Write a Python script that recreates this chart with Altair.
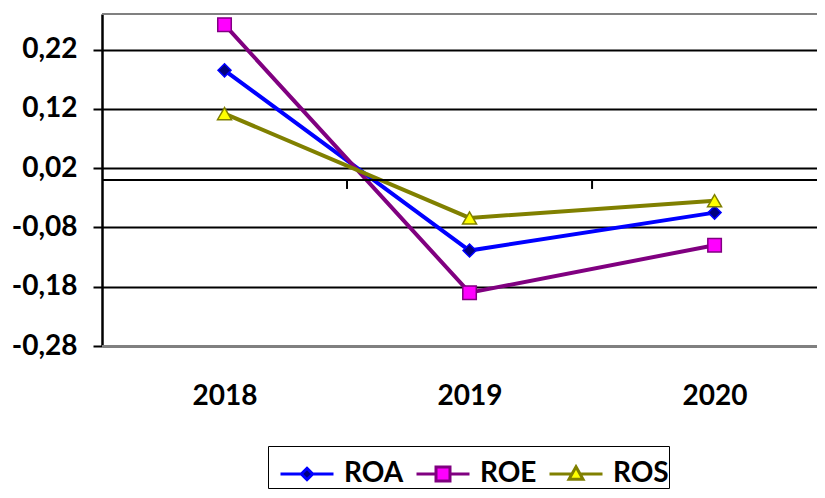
import altair as alt
import pandas as pd

years = [2018, 2019, 2020]
series = ["ROA", "ROE", "ROS"]
roa = [0.185, -0.119, -0.055]
roe = [0.262, -0.190, -0.110]
ros = [0.112, -0.064, -0.035]
y_ticks = [-0.28, -0.18, -0.08, 0.02, 0.12, 0.22]
divider_years = [2018.5, 2019.5]
border_values = [0.28, -0.28]

line_colors = ["#0000FF", "#800080", "#808000"]
fill_colors = ["#000080", "#FF00FF", "#FFFF00"]
marker_shapes = ["diamond", "square", "triangle-up"]
marker_sizes = [169, 196, 225]
legend_paths = [
    "M-1,0L-0.215,0M0.215,0L1,0M0,-0.215L0.215,0L0,0.215L-0.215,0Z",
    "M-1,0L-0.264,0M0.264,0L1,0M-0.264,-0.264L0.264,-0.264L0.264,0.264L-0.264,0.264Z",
    "M-1,0L-0.15,0M0.15,0L1,0M0,-0.27L0.264,0.2L-0.264,0.2Z",
]

rows = []
for name, vals in zip(series, [roa, roe, ros]):
    for yr, v in zip(years, vals):
        rows.append({"year": yr, "series": name, "value": v})
df = pd.DataFrame(rows)

FONT = "Lato"
WEIGHT = "bold"
X_DOM = [2017.5, 2020.418]
Y_DOM = [-0.28, 0.28]


def xs():
    return alt.Scale(domain=X_DOM, nice=False, zero=False)


def ys():
    return alt.Scale(domain=Y_DOM, nice=False, zero=False)


ylabel = "(datum.value < 0 ? '-' : '') + replace(format(abs(datum.value), '.2f'), '.', ',')"


def xaxis():
    return alt.Axis(
        values=years, format="d", ticks=False, domain=False, grid=False,
        labelFont=FONT, labelFontSize=28, labelFontWeight=WEIGHT,
        labelColor="black", labelPadding=36, title=None,
    )


def yaxis():
    return alt.Axis(
        values=y_ticks, labelExpr=ylabel, grid=True, gridColor="black",
        gridWidth=2, gridOpacity=1, domainColor="black", domainWidth=2.5,
        tickColor="black", tickWidth=2, tickSize=9, labelPadding=16,
        labelFont=FONT, labelFontSize=28, labelFontWeight=WEIGHT,
        labelColor="black", title=None,
    )


base = alt.Chart(df)

zero_line = alt.Chart(df).mark_rule(color="black", strokeWidth=2).encode(
    x=alt.X(datum=X_DOM[0], scale=xs(), axis=xaxis()),
    x2=alt.X2(datum=X_DOM[1]),
    y=alt.Y(datum=0, scale=ys(), axis=yaxis()),
)

tick_df = pd.DataFrame({"d": divider_years})
tick_marks = alt.Chart(tick_df).mark_rule(color="black", strokeWidth=2).encode(
    x=alt.X("d:Q", scale=xs(), axis=xaxis()),
    y=alt.Y(datum=0, scale=ys(), axis=yaxis()),
    y2=alt.Y2(datum=-0.0151),
)

border_df = pd.DataFrame({"b": border_values})
borders = alt.Chart(border_df).mark_rule(color="#808080", strokeWidth=2).encode(
    x=alt.X(datum=X_DOM[0], scale=xs(), axis=xaxis()),
    x2=alt.X2(datum=X_DOM[1]),
    y=alt.Y("b:Q", scale=ys(), axis=yaxis()),
)

lines = base.mark_line(strokeWidth=4).encode(
    x=alt.X("year:Q", scale=xs(), axis=xaxis()),
    y=alt.Y("value:Q", scale=ys(), axis=yaxis()),
    stroke=alt.Stroke("series:N", scale=alt.Scale(domain=series, range=line_colors), legend=None),
)

points = base.mark_point(filled=True, strokeWidth=1.5, opacity=1).encode(
    x=alt.X("year:Q", scale=xs(), axis=xaxis()),
    y=alt.Y("value:Q", scale=ys(), axis=yaxis()),
    shape=alt.Shape("series:N", scale=alt.Scale(domain=series, range=marker_shapes), legend=None),
    fill=alt.Fill("series:N", scale=alt.Scale(domain=series, range=fill_colors), legend=None),
    stroke=alt.Stroke("series:N", scale=alt.Scale(domain=series, range=line_colors), legend=None),
    size=alt.Size("series:N", scale=alt.Scale(domain=series, range=marker_sizes), legend=None),
)

leg = alt.Legend(
    title=None, orient="none", legendX=166, legendY=432, direction="horizontal",
    padding=0, symbolOffset=11, labelOffset=9, columnPadding=-4,
    strokeColor="black", fillColor="white", symbolSize=2809, symbolStrokeWidth=3,
    labelFont=FONT, labelFontSize=28, labelFontWeight=WEIGHT, labelColor="black",
    labelExpr="datum.label == 'ROS' ? 'ROS\u2007' : datum.label",
)

legend_layer = base.transform_filter("false").mark_point(filled=True, strokeWidth=3, opacity=1).encode(
    x=alt.X("year:Q", scale=xs(), axis=xaxis()),
    y=alt.Y("value:Q", scale=ys(), axis=yaxis()),
    shape=alt.Shape("series:N", scale=alt.Scale(domain=series, range=legend_paths), legend=leg),
    fill=alt.Fill("series:N", scale=alt.Scale(domain=series, range=fill_colors), legend=leg),
    stroke=alt.Stroke("series:N", scale=alt.Scale(domain=series, range=line_colors), legend=leg),
)

chart = (
    alt.layer(lines, zero_line, tick_marks, borders, points, legend_layer)
    .resolve_scale(shape="independent", fill="independent", stroke="independent", size="independent")
    .properties(
        width=715,
        height=332,
        padding={"left": 94, "top": 6, "right": 0, "bottom": 144},
        autosize=alt.AutoSizeParams(type="none"),
        background="white",
    )
    .configure_view(stroke=None)
)

chart.save("out.html", embed_options={"renderer": "svg", "actions": False})
